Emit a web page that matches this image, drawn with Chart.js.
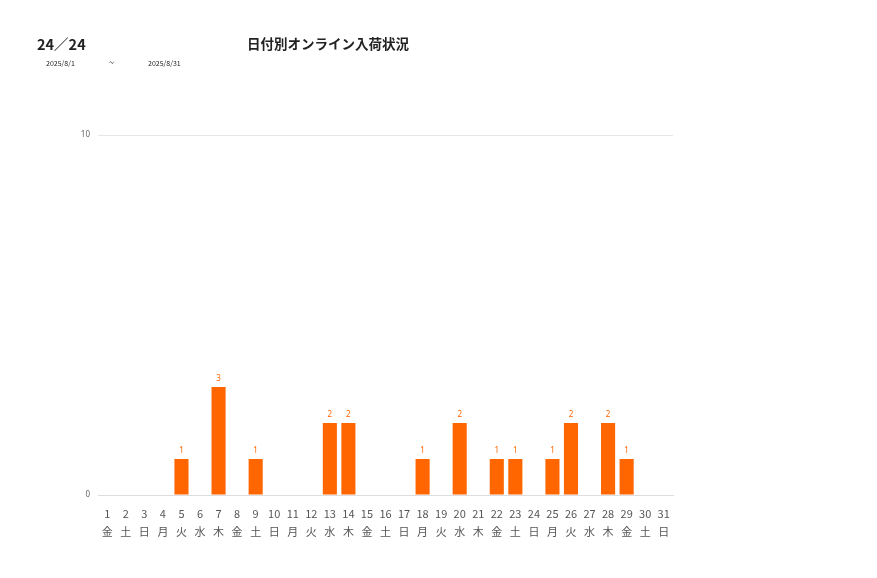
<!DOCTYPE html>
<html><head><meta charset="utf-8">
<script src="https://cdn.jsdelivr.net/npm/chart.js@4"></script>
<style>
html,body{margin:0;padding:0;background:#fff;width:877px;height:578px;overflow:hidden;font-family:"Noto Sans CJK JP","Noto Sans",sans-serif;}
#wrap{position:absolute;left:0;top:0;width:877px;height:578px;}
.t{position:absolute;white-space:nowrap;color:#222;}
</style></head><body>
<div id="wrap"><canvas id="c" width="877" height="578"></canvas></div>
<div class="t" style="left:37px;top:33px;font-size:14.5px;font-weight:bold;">24／24</div>
<div class="t" style="left:247px;top:33px;font-size:13.5px;font-weight:bold;">日付別オンライン入荷状況</div>
<div class="t" style="left:46px;top:58px;font-size:7px;">2025/8/1</div>
<div class="t" style="left:109px;top:56px;font-size:9px;">~</div>
<div class="t" style="left:148px;top:58px;font-size:7px;">2025/8/31</div>
<script>
const days = ["1","2","3","4","5","6","7","8","9","10","11","12","13","14","15","16","17","18","19","20","21","22","23","24","25","26","27","28","29","30","31"];
const weekdays = ["金","土","日","月","火","水","木","金","土","日","月","火","水","木","金","土","日","月","火","水","木","金","土","日","月","火","水","木","金","土","日"];
const arrivals = [0,0,0,0,1,0,3,0,1,0,0,0,2,2,0,0,0,1,0,2,0,1,1,0,1,2,0,2,1,0,0];
const yTicks = [0,10];

const labelPlugin = {
  id:'valLabels',
  afterDatasetsDraw(chart){
    const ctx = chart.ctx;
    const meta = chart.getDatasetMeta(0);
    ctx.save();
    ctx.fillStyle = '#ff6600';
    ctx.font = '8px "Noto Sans", sans-serif';
    ctx.textAlign = 'center';
    ctx.textBaseline = 'bottom';
    meta.data.forEach((bar,i)=>{
      const v = arrivals[i];
      if (v>0) ctx.fillText(String(v), bar.x, bar.y - 4);
    });
    ctx.restore();
  }
};

new Chart(document.getElementById('c'), {
  type:'bar',
  data:{
    labels: days.map((d,i)=>[d, weekdays[i]]),
    datasets:[{data:arrivals, backgroundColor:'#ff6600', borderWidth:0, barPercentage:0.76, categoryPercentage:1.0}]
  },
  options:{
    responsive:false, animation:false,
    layout:{padding:{left:0,right:204,top:135,bottom:33}},
    plugins:{legend:{display:false}, title:{display:false}, tooltip:{enabled:false}},
    scales:{
      x:{
        grid:{display:false, drawTicks:false},
        border:{display:true,color:'#dddddd'},
        ticks:{color:'#555', font:{size:11, family:'"Noto Sans CJK JP", sans-serif', lineHeight:1.6}, padding:10, maxRotation:0, autoSkip:false},
        afterFit(s){ s.height = 50; }
      },
      y:{
        min:0, max:10,
        afterBuildTicks(s){ s.ticks = yTicks.map(v=>({value:v})); },
        grid:{color:'#e6e6e6', drawTicks:false, lineWidth:1},
        border:{display:false},
        ticks:{color:'#666', font:{size:8, family:'"Noto Sans", sans-serif'}, padding:8},
        afterFit(s){ s.width = 98; }
      }
    }
  },
  plugins:[labelPlugin]
});
</script>
</body></html>
